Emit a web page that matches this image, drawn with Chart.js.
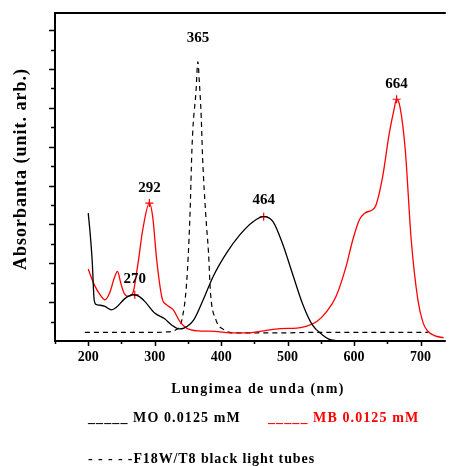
<!DOCTYPE html>
<html>
<head>
<meta charset="utf-8">
<script src="https://cdn.jsdelivr.net/npm/chart.js@4/dist/chart.umd.min.js"></script>
<style>
html,body{margin:0;padding:0;background:#fff;}
#wrap{position:relative;width:449px;height:466px;}
</style>
</head>
<body>
<div id="wrap"><canvas id="c" width="449" height="466"></canvas></div>
<script>
// ---- data ----
const wavelengthsMO = [200,203,206,209,212,218,225,235,242,255,267,275,285,300,315,325,337,344,359,373,388,408,428,448,464,478,492,507,522,537,552,562,575];
const absMO        = [3.29,2.75,2.05,1.05,0.94,0.92,0.89,0.80,0.86,1.09,1.19,1.16,1.02,0.72,0.57,0.42,0.31,0.33,0.55,1.06,1.66,2.26,2.73,3.07,3.20,3.07,2.52,1.75,0.98,0.42,0.16,0.05,0.0];

const wavelengthsMB = [200,209,219,225,232,240,244,249,254,260,267,275,282,292,297,303,311,318,328,338,348,365,390,414,439,464,489,514,529,544,559,573,588,598,608,616,628,633,643,653,660,664,669,677,686,696,704,711,721,735];
const absMB        = [1.85,1.45,1.16,1.06,1.23,1.66,1.79,1.49,1.23,1.15,1.23,2.01,2.86,3.55,3.20,2.09,1.11,0.93,0.80,0.50,0.33,0.26,0.25,0.21,0.21,0.26,0.32,0.33,0.38,0.50,0.76,1.15,1.92,2.60,3.12,3.29,3.38,3.50,4.23,5.35,5.95,6.22,6.03,4.92,2.60,1.06,0.46,0.25,0.14,0.08];

const wavelengthsLamp = [195,300,315,334,341,348,353,356,358,362,365,367,370,372,377,381,384,392,404,419,500,530,560,600,650,700,711];
const absLamp        = [0.22,0.22,0.23,0.31,0.55,1.49,3.20,4.92,5.60,6.38,7.19,6.72,5.77,4.75,3.20,2.26,1.23,0.55,0.29,0.21,0.21,0.22,0.22,0.22,0.22,0.22,0.22];

const markerX = [292,464,664,270];
const markerY = [3.55,3.20,6.22,1.19];

const peakLabels = ['365','664','292','464','270'];
const peakX      = [365,664,292,464,270];
const peakY      = [7.19,6.22,3.55,3.20,1.19];

const xTickValues = [150,200,250,300,350,400,450,500,550,600,650,700];
const yTickValues = [0.5,1,1.5,2,2.5,3,3.5,4,4.5,5,5.5,6,6.5,7,7.5,8];

const xTitle = 'Lungimea de unda (nm)';
const yTitle = 'Absorbanta (unit. arb.)';
const legendMO = '_____ MO 0.0125 mM';
const legendMB = '_____ MB 0.0125 mM';
const legendLamp = '- - - - -F18W/T8 black light tubes';

// ---- helpers ----
const pts = (xs, ys) => xs.map((x, i) => ({x: x, y: ys[i]}));
const SERIF = "'Liberation Serif','Times New Roman',serif";
const peakOffsets = [25,16,16,18,17];

const decor = {
  id: 'decor',
  afterDraw(chart) {
    const ctx = chart.ctx;
    const a = chart.chartArea;
    const xs = chart.scales.x, ys = chart.scales.y;
    ctx.save();
    ctx.strokeStyle = '#000';
    ctx.lineWidth = 2;
    ctx.beginPath();
    ctx.moveTo(a.left, a.bottom);
    ctx.lineTo(a.left, a.top);
    ctx.lineTo(a.right + 2, a.top);
    ctx.moveTo(a.left - 1, a.bottom);
    ctx.lineTo(a.right + 2, a.bottom);
    ctx.stroke();
    ctx.lineWidth = 1.5;
    ctx.beginPath();
    yTickValues.forEach(v => {
      const y = Math.round(ys.getPixelForValue(v)) + 0.5;
      const len = (v % 1 === 0) ? 6 : 4;
      ctx.moveTo(a.left - len, y);
      ctx.lineTo(a.left, y);
    });
    xTickValues.forEach(v => {
      const x = Math.round(xs.getPixelForValue(v)) + 0.5;
      const len = (v % 100 === 0) ? 5 : 3;
      ctx.moveTo(x, a.bottom);
      ctx.lineTo(x, a.bottom + len);
    });
    ctx.stroke();

    // peak labels
    ctx.fillStyle = '#000';
    ctx.font = 'bold 15px ' + SERIF;
    ctx.textAlign = 'center';
    ctx.textBaseline = 'alphabetic';
    peakLabels.forEach((t, i) => {
      const x = xs.getPixelForValue(peakX[i]);
      const y = ys.getPixelForValue(peakY[i]);
      ctx.fillText(t, x, y - peakOffsets[i] + 5);
    });

    // axis titles
    ctx.letterSpacing = '1.4px';
    ctx.font = 'bold 14px ' + SERIF;
    ctx.textAlign = 'center';
    ctx.fillText(xTitle, 258, 393);
    ctx.save();
    ctx.letterSpacing = '1px';
    ctx.translate(21, 169);
    ctx.rotate(-Math.PI / 2);
    ctx.font = 'bold 18px ' + SERIF;
    ctx.textBaseline = 'middle';
    ctx.fillText(yTitle, 0, 0);
    ctx.restore();

    // legend
    ctx.letterSpacing = '1.1px';
    ctx.textAlign = 'left';
    ctx.textBaseline = 'alphabetic';
    ctx.font = 'bold 14px ' + SERIF;
    ctx.fillStyle = '#000';
    ctx.fillText(legendMO, 88, 421.5);
    ctx.fillStyle = '#ff0000';
    ctx.fillText(legendMB, 268, 421.5);
    ctx.letterSpacing = '0.9px';
    ctx.fillStyle = '#000';
    ctx.fillText(legendLamp, 88, 463);
    ctx.restore();
  }
};

new Chart(document.getElementById('c'), {
  type: 'line',
  data: {
    datasets: [
      {label: 'MO 0.0125 mM', data: pts(wavelengthsMO, absMO), borderColor: '#000', borderWidth: 1.3, pointRadius: 0, cubicInterpolationMode: 'monotone', fill: false},
      {label: 'MB 0.0125 mM', data: pts(wavelengthsMB, absMB), borderColor: '#ff0000', borderWidth: 1.3, pointRadius: 0, cubicInterpolationMode: 'monotone', fill: false},
      {label: 'F18W/T8 black light tubes', data: pts(wavelengthsLamp, absLamp), borderColor: '#000', borderWidth: 1.2, borderDash: [5,4], pointRadius: 0, cubicInterpolationMode: 'monotone', fill: false},
      {label: 'peaks', data: pts(markerX, markerY), showLine: false, pointStyle: 'cross', pointRadius: 4, borderColor: '#ff0000', borderWidth: 1.2, backgroundColor: '#ff0000'}
    ]
  },
  options: {
    responsive: false,
    animation: false,
    devicePixelRatio: 1,
    layout: {padding: {top: 13, left: 0, right: 0, bottom: 95}},
    plugins: {legend: {display: false}, tooltip: {enabled: false}},
    scales: {
      x: {
        type: 'linear', min: 150, max: 735,
        afterBuildTicks: s => { s.ticks = xTickValues.map(v => ({value: v})); },
        afterFit: s => { s.height = 30; s.paddingLeft = 0; s.paddingRight = 0; },
        grid: {display: false, drawTicks: false},
        border: {display: false},
        ticks: {
          padding: 8, color: '#000', maxRotation: 0, autoSkip: false,
          font: {family: SERIF, size: 14, weight: 'bold'},
          callback: v => (v % 100 === 0 && v >= 200) ? String(v) : ''
        }
      },
      y: {
        type: 'linear', min: 0, max: 8.44,
        afterFit: s => { s.width = 55; },
        grid: {display: false, drawTicks: false},
        border: {display: false},
        ticks: {display: false}
      }
    }
  },
  plugins: [decor]
});
</script>
</body>
</html>
